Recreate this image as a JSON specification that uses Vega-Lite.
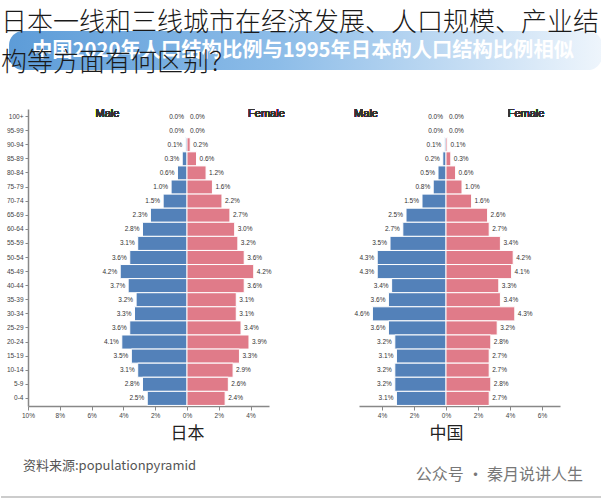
{
  "$schema": "https://vega.github.io/schema/vega-lite/v6.json",
  "padding": {"left": 0, "top": 10, "right": 0, "bottom": 0},
  "background": "white",
  "title": {
    "text": ["日本一线和三线城市在经济发展、人口规模、产业结", "构等方面有何区别？"],
    "anchor": "start", "frame": "group",
    "font": "Noto Sans CJK SC", "fontSize": 26, "fontWeight": 300, "lineHeight": 40,
    "color": "#1a1a1a", "dx": -27, "offset": -45
  },
  "config": {
    "view": {"stroke": null},
    "font": "Liberation Sans",
    "axis": {"grid": false},
    "axisX": {"domainColor": "#888", "domainWidth": 1.5, "tickColor": "#888", "tickSize": 4, "labelFontSize": 6.5, "labelColor": "#444", "labelFlush": false, "labelOverlap": false, "labelPadding": 2, "titleFont": "Noto Sans CJK SC", "titleFontSize": 17, "titleFontWeight": "normal", "titleColor": "#222", "titlePadding": 7},
    "axisY": {"domainColor": "#888", "domainWidth": 1.5, "tickColor": "#888", "tickSize": 3, "labelFontSize": 6.5, "labelColor": "#444", "labelPadding": 2, "title": null}
  },
  "datasets": {
    "pop": [
      {"country": "日本", "age": "100+", "sex": "Male", "pct": 0.0},
      {"country": "日本", "age": "95-99", "sex": "Male", "pct": 0.0},
      {"country": "日本", "age": "90-94", "sex": "Male", "pct": 0.1},
      {"country": "日本", "age": "85-89", "sex": "Male", "pct": 0.3},
      {"country": "日本", "age": "80-84", "sex": "Male", "pct": 0.6},
      {"country": "日本", "age": "75-79", "sex": "Male", "pct": 1.0},
      {"country": "日本", "age": "70-74", "sex": "Male", "pct": 1.5},
      {"country": "日本", "age": "65-69", "sex": "Male", "pct": 2.3},
      {"country": "日本", "age": "60-64", "sex": "Male", "pct": 2.8},
      {"country": "日本", "age": "55-59", "sex": "Male", "pct": 3.1},
      {"country": "日本", "age": "50-54", "sex": "Male", "pct": 3.6},
      {"country": "日本", "age": "45-49", "sex": "Male", "pct": 4.2},
      {"country": "日本", "age": "40-44", "sex": "Male", "pct": 3.7},
      {"country": "日本", "age": "35-39", "sex": "Male", "pct": 3.2},
      {"country": "日本", "age": "30-34", "sex": "Male", "pct": 3.3},
      {"country": "日本", "age": "25-29", "sex": "Male", "pct": 3.6},
      {"country": "日本", "age": "20-24", "sex": "Male", "pct": 4.1},
      {"country": "日本", "age": "15-19", "sex": "Male", "pct": 3.5},
      {"country": "日本", "age": "10-14", "sex": "Male", "pct": 3.1},
      {"country": "日本", "age": "5-9", "sex": "Male", "pct": 2.8},
      {"country": "日本", "age": "0-4", "sex": "Male", "pct": 2.5},
      {"country": "日本", "age": "100+", "sex": "Female", "pct": 0.0},
      {"country": "日本", "age": "95-99", "sex": "Female", "pct": 0.0},
      {"country": "日本", "age": "90-94", "sex": "Female", "pct": 0.2},
      {"country": "日本", "age": "85-89", "sex": "Female", "pct": 0.6},
      {"country": "日本", "age": "80-84", "sex": "Female", "pct": 1.2},
      {"country": "日本", "age": "75-79", "sex": "Female", "pct": 1.6},
      {"country": "日本", "age": "70-74", "sex": "Female", "pct": 2.2},
      {"country": "日本", "age": "65-69", "sex": "Female", "pct": 2.7},
      {"country": "日本", "age": "60-64", "sex": "Female", "pct": 3.0},
      {"country": "日本", "age": "55-59", "sex": "Female", "pct": 3.2},
      {"country": "日本", "age": "50-54", "sex": "Female", "pct": 3.6},
      {"country": "日本", "age": "45-49", "sex": "Female", "pct": 4.2},
      {"country": "日本", "age": "40-44", "sex": "Female", "pct": 3.6},
      {"country": "日本", "age": "35-39", "sex": "Female", "pct": 3.1},
      {"country": "日本", "age": "30-34", "sex": "Female", "pct": 3.1},
      {"country": "日本", "age": "25-29", "sex": "Female", "pct": 3.4},
      {"country": "日本", "age": "20-24", "sex": "Female", "pct": 3.9},
      {"country": "日本", "age": "15-19", "sex": "Female", "pct": 3.3},
      {"country": "日本", "age": "10-14", "sex": "Female", "pct": 2.9},
      {"country": "日本", "age": "5-9", "sex": "Female", "pct": 2.6},
      {"country": "日本", "age": "0-4", "sex": "Female", "pct": 2.4},
      {"country": "中国", "age": "100+", "sex": "Male", "pct": 0.0},
      {"country": "中国", "age": "95-99", "sex": "Male", "pct": 0.0},
      {"country": "中国", "age": "90-94", "sex": "Male", "pct": 0.1},
      {"country": "中国", "age": "85-89", "sex": "Male", "pct": 0.2},
      {"country": "中国", "age": "80-84", "sex": "Male", "pct": 0.5},
      {"country": "中国", "age": "75-79", "sex": "Male", "pct": 0.8},
      {"country": "中国", "age": "70-74", "sex": "Male", "pct": 1.5},
      {"country": "中国", "age": "65-69", "sex": "Male", "pct": 2.5},
      {"country": "中国", "age": "60-64", "sex": "Male", "pct": 2.7},
      {"country": "中国", "age": "55-59", "sex": "Male", "pct": 3.5},
      {"country": "中国", "age": "50-54", "sex": "Male", "pct": 4.3},
      {"country": "中国", "age": "45-49", "sex": "Male", "pct": 4.3},
      {"country": "中国", "age": "40-44", "sex": "Male", "pct": 3.4},
      {"country": "中国", "age": "35-39", "sex": "Male", "pct": 3.6},
      {"country": "中国", "age": "30-34", "sex": "Male", "pct": 4.6},
      {"country": "中国", "age": "25-29", "sex": "Male", "pct": 3.6},
      {"country": "中国", "age": "20-24", "sex": "Male", "pct": 3.2},
      {"country": "中国", "age": "15-19", "sex": "Male", "pct": 3.1},
      {"country": "中国", "age": "10-14", "sex": "Male", "pct": 3.2},
      {"country": "中国", "age": "5-9", "sex": "Male", "pct": 3.2},
      {"country": "中国", "age": "0-4", "sex": "Male", "pct": 3.1},
      {"country": "中国", "age": "100+", "sex": "Female", "pct": 0.0},
      {"country": "中国", "age": "95-99", "sex": "Female", "pct": 0.0},
      {"country": "中国", "age": "90-94", "sex": "Female", "pct": 0.1},
      {"country": "中国", "age": "85-89", "sex": "Female", "pct": 0.3},
      {"country": "中国", "age": "80-84", "sex": "Female", "pct": 0.6},
      {"country": "中国", "age": "75-79", "sex": "Female", "pct": 1.0},
      {"country": "中国", "age": "70-74", "sex": "Female", "pct": 1.6},
      {"country": "中国", "age": "65-69", "sex": "Female", "pct": 2.6},
      {"country": "中国", "age": "60-64", "sex": "Female", "pct": 2.7},
      {"country": "中国", "age": "55-59", "sex": "Female", "pct": 3.4},
      {"country": "中国", "age": "50-54", "sex": "Female", "pct": 4.2},
      {"country": "中国", "age": "45-49", "sex": "Female", "pct": 4.1},
      {"country": "中国", "age": "40-44", "sex": "Female", "pct": 3.3},
      {"country": "中国", "age": "35-39", "sex": "Female", "pct": 3.4},
      {"country": "中国", "age": "30-34", "sex": "Female", "pct": 4.3},
      {"country": "中国", "age": "25-29", "sex": "Female", "pct": 3.2},
      {"country": "中国", "age": "20-24", "sex": "Female", "pct": 2.8},
      {"country": "中国", "age": "15-19", "sex": "Female", "pct": 2.7},
      {"country": "中国", "age": "10-14", "sex": "Female", "pct": 2.7},
      {"country": "中国", "age": "5-9", "sex": "Female", "pct": 2.8},
      {"country": "中国", "age": "0-4", "sex": "Female", "pct": 2.7}
    ]
  },
  "spacing": 37,
  "vconcat": [
    {
      "width": 574, "height": 39,
      "data": {"values": [{}]},
      "layer": [
        {
          "mark": {"type": "rect", "cornerRadius": 14, "color": {"gradient": "linear", "x1": 0, "y1": 0, "x2": 1, "y2": 0, "stops": [{"offset": 0, "color": "#5d9cd8"}, {"offset": 0.45, "color": "#8cbce8"}, {"offset": 1, "color": "#eef5fc"}]}},
          "encoding": {
            "x": {"datum": -0.033, "type": "quantitative", "scale": {"domain": [0, 1]}, "axis": null},
            "x2": {"datum": 1},
            "y": {"datum": 0, "type": "quantitative", "scale": {"domain": [0, 1]}, "axis": null},
            "y2": {"datum": 1}
          }
        },
        {
          "mark": {"type": "text", "text": "中国2020年人口结构比例与1995年日本的人口结构比例相似", "font": "Noto Sans CJK SC", "fontSize": 20.3, "fontWeight": "bold", "color": "white", "dy": 0, "dx": -12},
          "encoding": {}
        }
      ]
    },
    {
      "spacing": 4,
      "vconcat": [
        {
          "spacing": 0, "bounds": "flush",
          "hconcat": [
            {
              "width": 159, "height": 297,
              "data": {"name": "pop"},
              "transform": [{"filter": "datum.country == '日本' && datum.sex == 'Male'"}],
              "encoding": {
                "y": {"field": "age", "type": "nominal", "sort": ["100+","95-99","90-94","85-89","80-84","75-79","70-74","65-69","60-64","55-59","50-54","45-49","40-44","35-39","30-34","25-29","20-24","15-19","10-14","5-9","0-4"], "scale": {"paddingInner": 0, "paddingOuter": 0.04}, "axis": {"orient": "left"}},
                "x": {"field": "pct", "type": "quantitative", "scale": {"domain": [0, 10], "reverse": true, "nice": false}, "axis": {"values": [0, 2, 4, 6, 8, 10], "labelExpr": "datum.value + '%'", "title": "日本", "titleX": 159}}
              },
              "layer": [
                {"mark": {"type": "bar", "color": "#5381b9", "stroke": "white", "strokeWidth": 1}},
                {"mark": {"type": "text", "align": "right", "dx": -3, "fontSize": 6.5, "color": "#333", "text": {"expr": "format(datum.pct, '.1f') + '%'"}}},
                {"mark": {"type": "text", "text": "Male", "fontSize": 11, "fontWeight": "normal", "color": "#333", "dy": -3}, "encoding": {"x": {"datum": 5}, "y": {"datum": "100+"}}}
              ]
            },
            {
              "width": 82, "height": 297,
              "data": {"name": "pop"},
              "transform": [{"filter": "datum.country == '日本' && datum.sex == 'Female'"}],
              "encoding": {
                "y": {"field": "age", "type": "nominal", "sort": ["100+","95-99","90-94","85-89","80-84","75-79","70-74","65-69","60-64","55-59","50-54","45-49","40-44","35-39","30-34","25-29","20-24","15-19","10-14","5-9","0-4"], "scale": {"paddingInner": 0, "paddingOuter": 0.04}, "axis": null},
                "x": {"field": "pct", "type": "quantitative", "scale": {"domain": [0, 5.16], "nice": false}, "axis": {"values": [2, 4], "labelExpr": "datum.value + '%'", "title": null}}
              },
              "layer": [
                {"mark": {"type": "bar", "color": "#e07b89", "stroke": "white", "strokeWidth": 1}},
                {"mark": {"type": "text", "align": "left", "dx": 3, "fontSize": 6.5, "color": "#333", "text": {"expr": "format(datum.pct, '.1f') + '%'"}}},
                {"mark": {"type": "text", "text": "Female", "fontSize": 11, "fontWeight": "normal", "color": "#333", "dy": -3}, "encoding": {"x": {"datum": 5}, "y": {"datum": "100+"}}}
              ]
            },
            {
              "width": 90, "height": 297,
              "data": {"values": [{}]},
              "mark": {"type": "text", "text": ""},
              "encoding": {}
            },
            {
              "width": 87, "height": 297,
              "data": {"name": "pop"},
              "transform": [{"filter": "datum.country == '中国' && datum.sex == 'Male'"}],
              "encoding": {
                "y": {"field": "age", "type": "nominal", "sort": ["100+","95-99","90-94","85-89","80-84","75-79","70-74","65-69","60-64","55-59","50-54","45-49","40-44","35-39","30-34","25-29","20-24","15-19","10-14","5-9","0-4"], "scale": {"paddingInner": 0, "paddingOuter": 0.04}, "axis": null},
                "x": {"field": "pct", "type": "quantitative", "scale": {"domain": [0, 5.44], "reverse": true, "nice": false}, "axis": {"values": [0, 2, 4], "labelExpr": "datum.value + '%'", "title": "中国", "titleX": 87}}
              },
              "layer": [
                {"mark": {"type": "bar", "color": "#5381b9", "stroke": "white", "strokeWidth": 1}},
                {"mark": {"type": "text", "align": "right", "dx": -3, "fontSize": 6.5, "color": "#333", "text": {"expr": "format(datum.pct, '.1f') + '%'"}}},
                {"mark": {"type": "text", "text": "Male", "fontSize": 11, "fontWeight": "normal", "color": "#333", "dy": -3}, "encoding": {"x": {"datum": 5}, "y": {"datum": "100+"}}}
              ]
            },
            {
              "width": 114, "height": 297,
              "data": {"name": "pop"},
              "transform": [{"filter": "datum.country == '中国' && datum.sex == 'Female'"}],
              "encoding": {
                "y": {"field": "age", "type": "nominal", "sort": ["100+","95-99","90-94","85-89","80-84","75-79","70-74","65-69","60-64","55-59","50-54","45-49","40-44","35-39","30-34","25-29","20-24","15-19","10-14","5-9","0-4"], "scale": {"paddingInner": 0, "paddingOuter": 0.04}, "axis": null},
                "x": {"field": "pct", "type": "quantitative", "scale": {"domain": [0, 7.125], "nice": false}, "axis": {"values": [2, 4, 6], "labelExpr": "datum.value + '%'", "title": null}}
              },
              "layer": [
                {"mark": {"type": "bar", "color": "#e07b89", "stroke": "white", "strokeWidth": 1}},
                {"mark": {"type": "text", "align": "left", "dx": 3, "fontSize": 6.5, "color": "#333", "text": {"expr": "format(datum.pct, '.1f') + '%'"}}},
                {"mark": {"type": "text", "text": "Female", "fontSize": 11, "fontWeight": "normal", "color": "#333", "dy": -3}, "encoding": {"x": {"datum": 5}, "y": {"datum": "100+"}}}
              ]
            }
          ]
        },
        {
          "width": 574, "height": 51,
          "data": {"values": [{}]},
          "layer": [
            {
              "mark": {"type": "rule", "color": "#bbbbbb", "strokeWidth": 1.5},
              "encoding": {
                "x": {"datum": -0.047, "type": "quantitative", "scale": {"domain": [0, 1]}, "axis": null},
                "x2": {"datum": 1},
                "y": {"datum": 0, "type": "quantitative", "scale": {"domain": [0, 1]}, "axis": null}
              }
            },
            {
              "mark": {"type": "text", "text": "资料来源:populationpyramid", "align": "left", "font": "Noto Sans CJK SC", "fontSize": 13, "color": "#555", "dx": -5},
              "encoding": {"x": {"datum": 0, "type": "quantitative"}, "y": {"datum": 0.6, "type": "quantitative"}}
            },
            {
              "mark": {"type": "text", "text": "公众号 · 秦月说讲人生", "align": "right", "font": "Noto Sans CJK SC", "fontSize": 16, "color": "#777", "dx": -19},
              "encoding": {"x": {"datum": 1, "type": "quantitative"}, "y": {"datum": 0.44, "type": "quantitative"}}
            }
          ]
        }
      ]
    }
  ]
}
